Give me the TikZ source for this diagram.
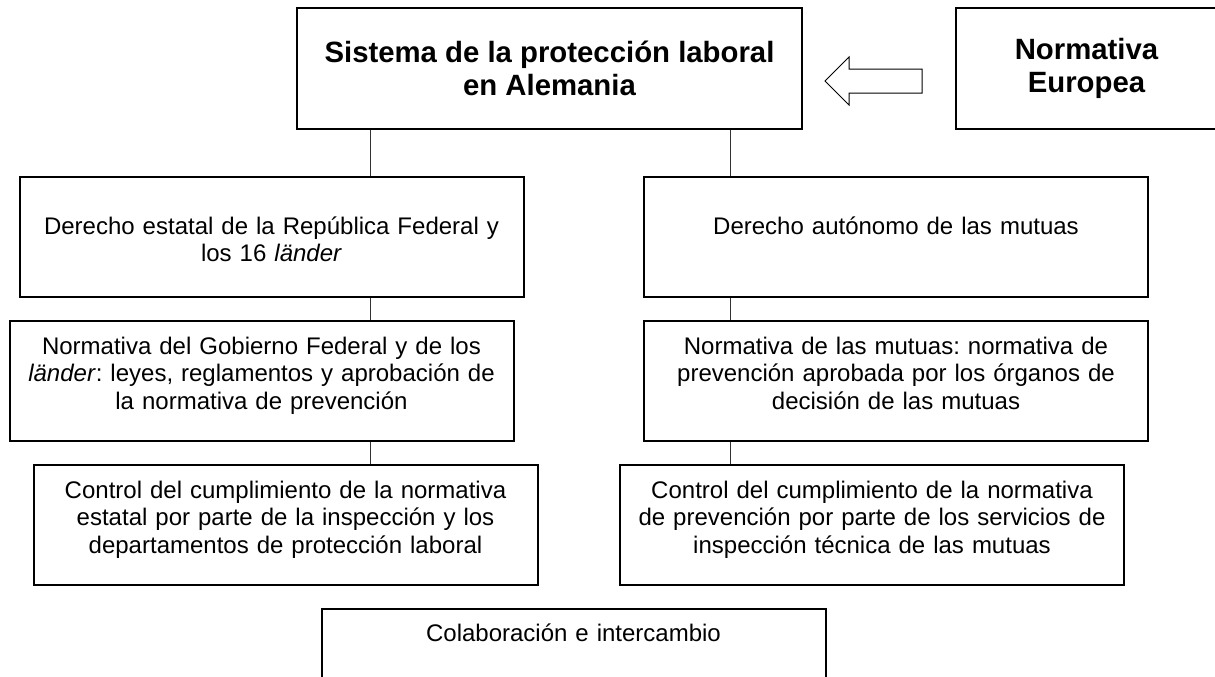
\documentclass[tikz,border=0pt]{standalone}
\usepackage{fontspec}
\setmainfont{Liberation Sans}
\frenchspacing
\begin{document}
\begin{tikzpicture}[
  x=0.75pt, y=-0.75pt,
  prbox/.style = {draw, line width=1.5pt, minimum width=378pt, minimum height=90pt, inner sep=0pt},
  prtitle/.style = {align=center, font=\fontsize{22}{25.3}\selectfont\bfseries},
  prtxt/.style = {anchor=base, inner sep=0pt, text width=375pt, align=center, font=\fontsize{18}{20.7}\selectfont},
  prlink/.style = {line width=0.75pt, black!80},
  prarrow/.style = {line width=0.75pt, line join=miter}
]
  \useasboundingbox (0,0) rectangle (1215,676);
  % cabecera
  \node[prbox, prtitle, minimum width=378.75pt, minimum height=90.75pt] (sistema) at (549.5,68.5)
    {Sistema de la protección laboral\\en Alemania};
  \node[prbox, prtitle, minimum width=195.75pt, minimum height=90.75pt] (europea) at (1086.5,68.5)
    {Normativa\\Europea};
  \draw[prarrow] (825,81) -- (849,57) -- (849,69) -- (922,69) -- (922,93) -- (849,93) -- (849,105) -- cycle;
  % columna izquierda
  \node[prbox] (estatal) at (271.5,237) {};
  \node[prtxt] (estatalT) at (271.5,234) {Derecho estatal de la República Federal y\\los 16 \textit{länder}};
  \node[prbox] (gobierno) at (261.5,381) {};
  \node[prtxt] (gobiernoT) at (261.5,354) {Normativa del Gobierno Federal y de los\\\textit{länder}: leyes, reglamentos y aprobación de\\la normativa de prevención};
  \node[prbox] (inspeccion) at (285.5,525) {};
  \node[prtxt] (inspeccionT) at (285.5,498) {Control del cumplimiento de la normativa\\estatal por parte de la inspección y los\\departamentos de protección laboral};
  % columna derecha
  \node[prbox] (autonomo) at (896,237) {};
  \node[prtxt] (autonomoT) at (896,234) {Derecho autónomo de las mutuas};
  \node[prbox] (mutuas) at (896,381) {};
  \node[prtxt] (mutuasT) at (896,354) {Normativa de las mutuas: normativa de\\prevención aprobada por los órganos de\\decisión de las mutuas};
  \node[prbox] (servicios) at (872,525) {};
  \node[prtxt] (serviciosT) at (872,498) {Control del cumplimiento de la normativa\\de prevención por parte de los servicios de\\inspección técnica de las mutuas};
  % colaboracion
  \node[prbox] (colab) at (573.5,669) {};
  \node[prtxt] (colabT) at (573.5,641) {Colaboración e intercambio};
  % lineas
  \coordinate (lx) at (370,0);
  \coordinate (rx) at (730,0);
  \draw[prlink] (sistema.south -| lx) -- (estatal.north -| lx);
  \draw[prlink] (estatal.south -| lx) -- (gobierno.north -| lx);
  \draw[prlink] (gobierno.south -| lx) -- (inspeccion.north -| lx);
  \draw[prlink] (sistema.south -| rx) -- (autonomo.north -| rx);
  \draw[prlink] (autonomo.south -| rx) -- (mutuas.north -| rx);
  \draw[prlink] (mutuas.south -| rx) -- (servicios.north -| rx);
\end{tikzpicture}
\end{document}
